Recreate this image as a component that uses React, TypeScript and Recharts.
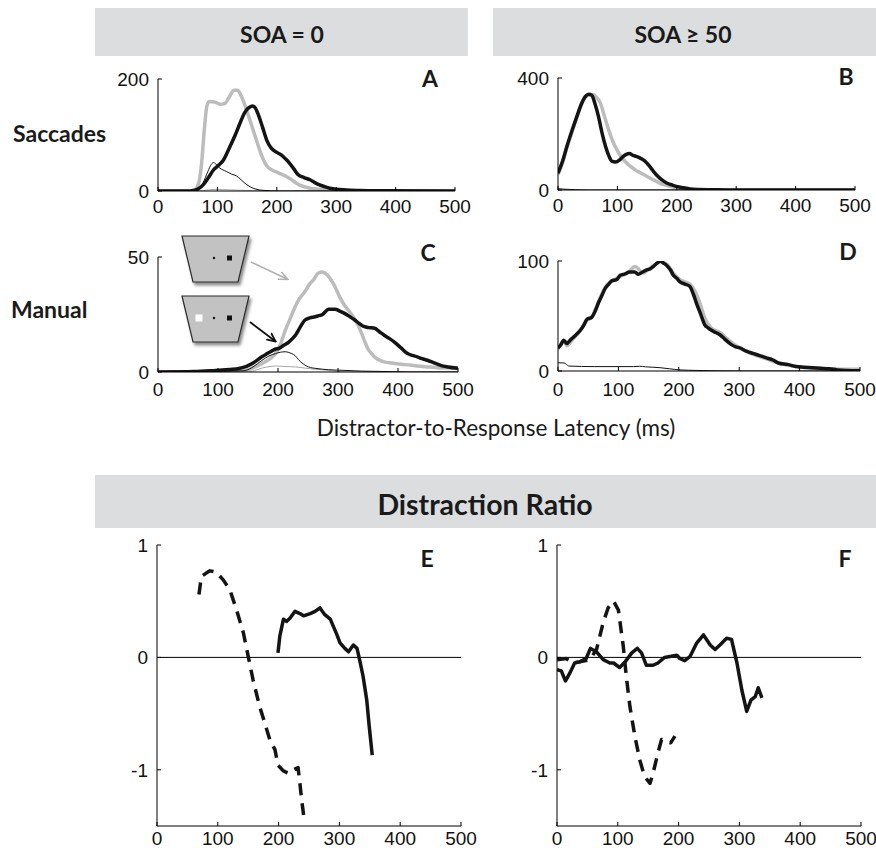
import React from 'react';
import { LineChart, Line, XAxis, YAxis, ReferenceLine } from 'recharts';

// latency (ms) / value pairs
const sacSoa0Gray = [[0, 0], [55, 0], [62, 2], [68, 12], [73, 45], [78, 110], [82, 150], [86, 160], [95, 159], [105, 155], [112, 156], [120, 168], [128, 180], [134, 180], [140, 170], [149, 145], [158, 116], [166, 90], [175, 62], [183, 45], [191, 38], [199, 34], [208, 30], [216, 26], [225, 20], [233, 14], [245, 8], [256, 5], [270, 3], [290, 1], [330, 0], [500, 0]];
const sacSoa0Black = [[0, 0], [55, 0], [60, 1], [68, 4], [76, 11], [85, 24], [93, 37], [102, 46], [110, 55], [121, 79], [130, 100], [138, 121], [146, 140], [152, 148], [159, 152], [164, 148], [169, 136], [176, 114], [183, 91], [191, 76], [200, 69], [208, 64], [215, 57], [222, 49], [229, 39], [236, 29], [246, 24], [256, 20], [264, 15], [272, 11], [280, 8], [289, 5], [300, 3], [317, 2], [340, 1], [380, 0.5], [500, 0]];
const sacSoa0Thin = [[0, 0], [60, 0], [68, 3], [76, 15], [84, 35], [90, 48], [94, 51], [98, 47], [104, 41], [115, 35], [124, 30], [132, 27], [138, 22], [143, 17], [150, 11], [160, 5], [170, 2], [180, 1], [200, 0], [500, 0]];
const sacSoa0ThinGray = [[0, 0], [70, 0], [85, 2], [100, 3], [120, 2], [150, 1], [180, 0], [500, 0]];

const sacSoa50Gray = [[0, 55], [8, 100], [15, 150], [24, 210], [32, 260], [43, 322], [52, 340], [60, 340], [66, 328], [71, 312], [78, 265], [85, 216], [92, 175], [99, 144], [106, 120], [113, 102], [121, 86], [130, 72], [140, 60], [150, 48], [161, 36], [172, 24], [184, 16], [195, 10], [206, 5], [217, 2], [240, 1], [280, 0], [500, 0]];
const sacSoa50Black = [[0, 60], [8, 105], [15, 156], [24, 215], [32, 264], [38, 300], [43, 324], [48, 338], [52, 342], [57, 338], [62, 310], [68, 264], [74, 205], [80, 156], [86, 120], [91, 102], [97, 100], [104, 108], [110, 120], [115, 127], [120, 130], [126, 124], [133, 119], [140, 112], [147, 102], [154, 85], [161, 66], [168, 49], [175, 36], [183, 25], [192, 18], [201, 12], [211, 8], [222, 4], [234, 2], [260, 1], [300, 0], [500, 0]];
const sacSoa50Thin = [[0, 5], [10, 3], [20, 2], [30, 1], [50, 0], [500, 0]];

const manSoa0Gray = [[0, 0], [120, 0], [146, 0.7], [160, 2], [173, 3.6], [185, 5.5], [196, 8], [204, 12], [212, 18], [220, 23], [228, 28], [236, 32], [245, 35], [252, 38], [259, 40], [267, 43], [272, 43.5], [278, 43], [286, 41], [292, 38.5], [297, 36], [304, 32], [311, 29], [320, 26], [328, 23], [334, 20], [339, 17], [345, 13], [350, 10], [356, 8], [361, 6.5], [368, 5.3], [377, 4.4], [390, 3.9], [405, 3.4], [420, 3], [432, 2.6], [450, 2.2], [465, 1.9], [482, 1.7], [500, 1.5]];
const manSoa0Black = [[0, 0], [60, 0.2], [96, 0.7], [120, 1.1], [135, 1.5], [145, 2.2], [151, 2.9], [162, 4.5], [173, 6.6], [182, 8], [190, 9.2], [196, 10], [201, 10.2], [209, 11.5], [218, 13], [224, 14.5], [229, 16], [237, 19.5], [245, 22.6], [253, 23.5], [262, 24], [268, 24.5], [273, 24.8], [280, 26.5], [284, 27.3], [290, 27.3], [295, 27.3], [303, 26.5], [311, 25.5], [320, 24], [328, 22.6], [336, 21], [344, 19.7], [352, 19.3], [361, 19], [369, 17.5], [377, 16], [386, 14.5], [394, 13], [405, 10.5], [416, 8], [424, 7.2], [432, 6.6], [440, 5.8], [449, 5.1], [460, 4], [471, 2.9], [484, 2.2], [500, 1.6]];
const manSoa0Thin = [[0, 0], [100, 0.3], [140, 0.5], [150, 1], [160, 2.5], [173, 5], [185, 7], [196, 8], [204, 8.6], [212, 8.8], [218, 8.5], [223, 8], [229, 7], [234, 5.4], [242, 3.5], [251, 2.2], [265, 1.5], [284, 1], [310, 0.7], [339, 0.4], [380, 0.2], [420, 0], [500, 0]];
const manSoa0ThinGray = [[0, 0], [150, 0], [165, 1], [173, 1.7], [185, 2.3], [196, 2.6], [210, 2.4], [229, 2.2], [245, 1.7], [262, 1.2], [280, 0.8], [295, 0.4], [320, 0], [500, 0]];

const manSoa50Gray = [[0, 20], [9, 27], [15, 23], [26, 30], [37, 37], [48, 46], [56, 49], [67, 63], [78, 76], [89, 82], [97, 84], [103, 86], [119, 91], [127, 95], [133, 93], [140, 89], [147, 91], [158, 96], [169, 99], [180, 97], [191, 89], [202, 83], [218, 79], [229, 70], [236, 60], [243, 48], [254, 39], [268, 35], [287, 26], [301, 21], [323, 15], [345, 11], [366, 7], [394, 4], [421, 2.5], [449, 2], [476, 1.5], [500, 1.5]];
const manSoa50Black = [[0, 21], [5, 24], [9, 28], [15, 25], [20, 28], [26, 31], [32, 34], [37, 37], [43, 42], [48, 47], [56, 49], [62, 55], [67, 62], [73, 69], [78, 75], [84, 79], [89, 82], [97, 83], [103, 87], [110, 88], [119, 90], [127, 90], [133, 88], [140, 90], [147, 92], [153, 93], [158, 95], [164, 98], [169, 100], [175, 98], [180, 96], [186, 92], [191, 87], [197, 84], [202, 81], [210, 79], [218, 77], [224, 70], [229, 62], [236, 52], [243, 42], [249, 39], [254, 37], [261, 35], [268, 33], [276, 29], [287, 24], [294, 22], [301, 21], [312, 18], [323, 16], [334, 14], [345, 12], [356, 10], [366, 7], [380, 6], [394, 4], [407, 3.5], [421, 3], [435, 2.5], [449, 2], [462, 1], [476, 0.5], [500, 0.3]];
const manSoa50Thin = [[0, 7.5], [10, 7.3], [14, 6], [18, 4.5], [60, 4], [125, 4], [135, 4.3], [145, 3.8], [169, 3], [185, 2], [202, 1], [230, 0.5], [260, 0.2], [300, 0], [500, 0]];

const ratioSoa0Sac = [[69, 0.56], [73, 0.72], [81, 0.75], [87, 0.77], [97, 0.76], [109, 0.69], [120, 0.6], [131, 0.42], [142, 0.22], [150, 0.01], [158, -0.2], [169, -0.44], [177, -0.58], [186, -0.74], [194, -0.82], [199, -0.96], [208, -1.01], [216, -1.03], [224, -1.0], [232, -0.98], [235, -1.12], [238, -1.27], [242, -1.44]];
const ratioSoa0Man = [[199, 0.04], [202, 0.19], [208, 0.34], [213, 0.32], [219, 0.35], [227, 0.41], [235, 0.39], [241, 0.37], [252, 0.39], [260, 0.41], [268, 0.44], [276, 0.38], [285, 0.34], [296, 0.2], [301, 0.13], [309, 0.08], [315, 0.05], [323, 0.11], [329, 0.08], [334, -0.04], [339, -0.17], [345, -0.38], [349, -0.61], [354, -0.87]];
const ratioSoa50Sac = [[0, -0.02], [15, -0.01], [26, -0.05], [37, -0.04], [54, -0.02], [65, 0.07], [76, 0.31], [84, 0.44], [93, 0.5], [101, 0.42], [109, 0.1], [114, -0.17], [120, -0.44], [128, -0.7], [136, -0.91], [144, -1.06], [153, -1.12], [158, -1.03], [166, -0.85], [172, -0.73], [180, -0.75], [187, -0.76], [194, -0.7]];
const ratioSoa50Man = [[0, -0.11], [7, -0.12], [14, -0.21], [21, -0.14], [29, -0.05], [37, -0.04], [48, -0.01], [55, 0.08], [65, 0.05], [76, -0.02], [87, -0.05], [93, -0.05], [103, -0.09], [112, -0.04], [123, 0.04], [132, 0.08], [139, 0.04], [147, -0.07], [158, -0.07], [166, -0.05], [177, 0], [188, 0.01], [197, 0.02], [202, -0.01], [210, -0.03], [219, 0.01], [230, 0.13], [241, 0.2], [252, 0.11], [260, 0.07], [268, 0.11], [279, 0.17], [287, 0.16], [296, -0.05], [304, -0.29], [312, -0.48], [319, -0.38], [326, -0.35], [331, -0.27], [337, -0.36]];

const xTicks = [0, 100, 200, 300, 400, 500];

const GRAY = '#bcbcbc';
const BLACK = '#141414';
const TICK_FONT = '"Liberation Sans", Arial, sans-serif';
const LABEL_FONT = 'Lato, "Open Sans", sans-serif';

const toPts = (pairs: number[][]) => pairs.map(([t, v]) => ({ t, v }));

type Series = { data: number[][]; color: string; width: number; dash?: string; linear?: boolean };

const XTick = (props: any) => {
  const { x, y, payload, gap } = props;
  const axisY = y - gap;
  return (
    <g>
      <line x1={x} x2={x} y1={axisY} y2={axisY - 4} stroke="#000" strokeWidth={1} />
      <text x={x} y={y} dy="0.71em" textAnchor="middle" fontSize={19} fontFamily={TICK_FONT} fill="#111">
        {payload.value}
      </text>
    </g>
  );
};

const YTick = (props: any) => {
  const { x, y, payload } = props;
  const axisX = x + 9;
  return (
    <g>
      <line x1={axisX} x2={axisX + 4} y1={y} y2={y} stroke="#000" strokeWidth={1} />
      <text x={x} y={y} dy="0.355em" textAnchor="end" fontSize={19} fontFamily={TICK_FONT} fill="#111">
        {payload.value}
      </text>
    </g>
  );
};

function Panel({ left, top, w, h, yDomain, yTicks, series, zeroLine, xGap = 9 }: {
  left: number; top: number; w: number; h: number;
  yDomain: [number, number]; yTicks: number[]; series: Series[]; zeroLine?: boolean; xGap?: number;
}) {
  const YW = 60, MT = 16, MR = 26, XH = 32;
  return (
    <div style={{ position: 'absolute', left: left - YW, top: top - MT }}>
      <LineChart width={YW + w + MR} height={MT + h + XH} margin={{ top: MT, right: MR, bottom: 0, left: 0 }}>
        <XAxis
          type="number"
          dataKey="t"
          domain={[0, 500]}
          ticks={xTicks}
          height={XH}
          tickSize={0}
          tickMargin={xGap}
          tickLine={false}
          axisLine={{ stroke: '#000', strokeWidth: 1 }}
          tick={(p: any) => <XTick {...p} gap={xGap} />}
          interval={0}
          allowDataOverflow
        />
        <YAxis
          type="number"
          dataKey="v"
          domain={yDomain}
          ticks={yTicks}
          width={YW}
          tickSize={0}
          tickMargin={9}
          tickLine={false}
          axisLine={{ stroke: '#000', strokeWidth: 1 }}
          tick={(p: any) => <YTick {...p} />}
          interval={0}
          allowDataOverflow
        />
        {zeroLine && <ReferenceLine y={0} stroke="#000" strokeWidth={1} />}
        {series.map((s, i) => (
          <Line
            key={i}
            data={toPts(s.data)}
            dataKey="v"
            type={s.linear ? 'linear' : 'monotone'}
            stroke={s.color}
            strokeWidth={s.width}
            strokeDasharray={s.dash}
            strokeLinejoin="round"
            dot={false}
            activeDot={false}
            isAnimationActive={false}
          />
        ))}
      </LineChart>
    </div>
  );
}

const labelStyle = { fontFamily: LABEL_FONT, fontWeight: 700, fill: '#1a1a1a' } as const;

export default function App() {
  return (
    <div style={{ position: 'absolute', left: 0, top: 0, width: 876, height: 851, background: '#fff' }}>
      <svg width={876} height={851} style={{ position: 'absolute', left: 0, top: 0 }}>
        <rect x={95} y={8} width={373} height={48} fill="#dcdddf" />
        <rect x={493} y={8} width={383} height={48} fill="#dcdddf" />
        <rect x={95} y={475} width={781} height={53} fill="#dcdddf" />
        <text x={282} y={43} textAnchor="middle" fontSize={23} {...labelStyle}>SOA = 0</text>
        <text x={683} y={43} textAnchor="middle" fontSize={23} {...labelStyle}>SOA ≥ 50</text>
        <text x={485} y={515} textAnchor="middle" fontSize={28.5} {...labelStyle}>Distraction Ratio</text>
        <text x={13} y={142} fontSize={23} {...labelStyle}>Saccades</text>
        <text x={11} y={318} fontSize={23} {...labelStyle}>Manual</text>
        <text x={496} y={436} textAnchor="middle" fontSize={22.5} fontFamily={LABEL_FONT} fill="#1a1a1a">
          Distractor-to-Response Latency (ms)
        </text>
        <text x={430} y={87} textAnchor="middle" fontSize={23} {...labelStyle}>A</text>
        <text x={846} y={85} textAnchor="middle" fontSize={23} {...labelStyle}>B</text>
        <text x={428} y={261} textAnchor="middle" fontSize={23} {...labelStyle}>C</text>
        <text x={848} y={260} textAnchor="middle" fontSize={23} {...labelStyle}>D</text>
        <text x={427} y={567} textAnchor="middle" fontSize={23} {...labelStyle}>E</text>
        <text x={845} y={567} textAnchor="middle" fontSize={23} {...labelStyle}>F</text>
      </svg>

      <Panel
        left={158} top={79} w={297} h={112}
        yDomain={[0, 200]} yTicks={[0, 200]}
        series={[
          { data: sacSoa0ThinGray, color: '#a8a8a8', width: 1 },
          { data: sacSoa0Gray, color: GRAY, width: 3.5 },
          { data: sacSoa0Thin, color: BLACK, width: 1 },
          { data: sacSoa0Black, color: BLACK, width: 3.5 },
        ]}
      />
      <Panel
        left={558} top={78} w={297} h={112}
        yDomain={[0, 400]} yTicks={[0, 400]}
        series={[
          { data: sacSoa50Gray, color: GRAY, width: 3.5 },
          { data: sacSoa50Thin, color: BLACK, width: 1 },
          { data: sacSoa50Black, color: BLACK, width: 3.5 },
        ]}
      />
      <Panel
        left={158} top={257} w={300} h={115} xGap={11}
        yDomain={[0, 50]} yTicks={[0, 50]}
        series={[
          { data: manSoa0ThinGray, color: '#a8a8a8', width: 1 },
          { data: manSoa0Gray, color: GRAY, width: 3.5 },
          { data: manSoa0Thin, color: BLACK, width: 1 },
          { data: manSoa0Black, color: BLACK, width: 3.5 },
        ]}
      />
      <Panel
        left={558} top={261} w={302} h={110} xGap={12}
        yDomain={[0, 100]} yTicks={[0, 100]}
        series={[
          { data: manSoa50Gray, color: GRAY, width: 3.5 },
          { data: manSoa50Thin, color: BLACK, width: 1 },
          { data: manSoa50Black, color: BLACK, width: 3.5 },
        ]}
      />
      <Panel
        left={157} top={545} w={304} h={281} xGap={6}
        yDomain={[-1.5, 1]} yTicks={[-1, 0, 1]} zeroLine
        series={[
          { data: ratioSoa0Sac, color: BLACK, width: 3.5, dash: '12 8', linear: true },
          { data: ratioSoa0Man, color: BLACK, width: 3.5, linear: true },
        ]}
      />
      <Panel
        left={557} top={545} w={304} h={281} xGap={6}
        yDomain={[-1.5, 1]} yTicks={[-1, 0, 1]} zeroLine
        series={[
          { data: ratioSoa50Sac, color: BLACK, width: 3.5, dash: '12 8', linear: true },
          { data: ratioSoa50Man, color: BLACK, width: 3.5, linear: true },
        ]}
      />

      {/* display insets with arrows in panel C */}
      <svg width={876} height={851} style={{ position: 'absolute', left: 0, top: 0, pointerEvents: 'none' }}>
        <defs>
          <filter id="shadow" x="-20%" y="-20%" width="150%" height="150%">
            <feDropShadow dx={2} dy={3} stdDeviation={1.8} floodColor="#000" floodOpacity={0.45} />
          </filter>
          <marker id="headGray" markerWidth={10} markerHeight={10} refX={8} refY={5} orient="auto" markerUnits="userSpaceOnUse">
            <path d="M0,1 L9,5 L0,9" fill="none" stroke="#b0b0b0" strokeWidth={1.6} />
          </marker>
          <marker id="headBlack" markerWidth={10} markerHeight={10} refX={8} refY={5} orient="auto" markerUnits="userSpaceOnUse">
            <path d="M0,1 L9,5 L0,9" fill="none" stroke="#111" strokeWidth={1.8} />
          </marker>
        </defs>
        <polygon points="182,236 249,236 238,282 193,282" fill="#c2c2c2" stroke="#2a2a2a" strokeWidth={1.2} filter="url(#shadow)" />
        <circle cx={214} cy={258} r={1.2} fill="#111" />
        <rect x={227} y={255.5} width={5} height={5} fill="#111" />
        <polygon points="182,296 249,296 238,342 193,342" fill="#c2c2c2" stroke="#2a2a2a" strokeWidth={1.2} filter="url(#shadow)" />
        <rect x={195.5} y={314.5} width={7} height={7} fill="#fff" />
        <circle cx={214} cy={318} r={1.2} fill="#111" />
        <rect x={227} y={315.5} width={5} height={5} fill="#111" />
        <line x1={251} y1={262} x2={287} y2={279} stroke="#b0b0b0" strokeWidth={1.6} markerEnd="url(#headGray)" />
        <line x1={250} y1={322} x2={275} y2={341} stroke="#111" strokeWidth={1.8} markerEnd="url(#headBlack)" />
      </svg>
    </div>
  );
}
